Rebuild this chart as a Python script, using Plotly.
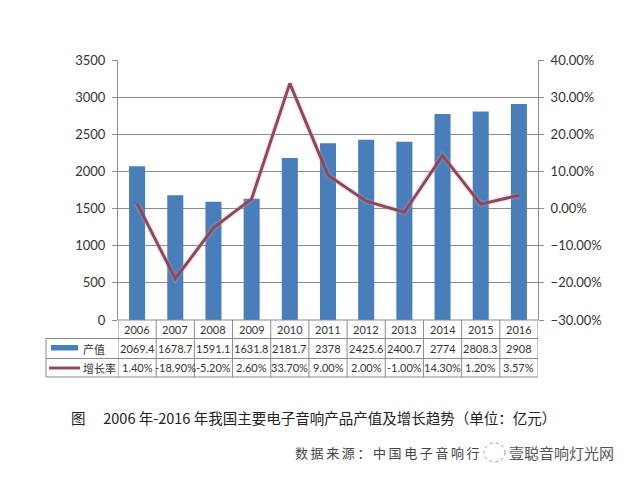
import plotly.graph_objects as go

years = ["2006", "2007", "2008", "2009", "2010", "2011", "2012", "2013", "2014", "2015", "2016"]
output_value = [2069.4, 1678.7, 1591.1, 1631.8, 2181.7, 2378, 2425.6, 2400.7, 2774, 2808.3, 2908]
output_labels = ["2069.4", "1678.7", "1591.1", "1631.8", "2181.7", "2378", "2425.6", "2400.7", "2774", "2808.3", "2908"]
growth_rate = [1.40, -18.90, -5.20, 2.60, 33.70, 9.00, 2.00, -1.00, 14.30, 1.20, 3.57]
growth_labels = ["1.40%", "-18.90%", "-5.20%", "2.60%", "33.70%", "9.00%", "2.00%", "-1.00%", "14.30%", "1.20%", "3.57%"]
series_names = ["产值", "增长率"]
caption = "图　 2006 年-2016 年我国主要电子音响产品产值及增长趋势（单位：亿元）"
source = "数据来源：中国电子音响行"
watermark = "壹聪音响灯光网"

OFF = 8  # default page body margin
W, H = 641 - OFF, 484 - OFF
def px(x):
    return (x - OFF) / W
def py(y):
    return 1 - (y - OFF) / H

BAR = "#4A7EBB"
LINE = "#8B4A5C"
GRID = "#8C8C8C"
TXT = "#333333"

fig = go.Figure()
xs = list(range(len(years)))
fig.add_trace(go.Bar(x=xs, y=output_value, name=series_names[0], marker_color=BAR,
                     marker_line_width=0, width=0.42, yaxis="y"))
fig.add_trace(go.Scatter(x=xs, y=growth_rate, mode="lines", yaxis="y2",
                         line=dict(color="rgba(235,160,170,0.25)", width=6), showlegend=False, hoverinfo="skip"))
fig.add_trace(go.Scatter(x=xs, y=growth_rate, name=series_names[1], mode="lines", yaxis="y2",
                         line=dict(color=LINE, width=3)))

x0, x1 = px(118), px(538)
ytop, ybot = py(60), py(320)
r1, r2, r3 = py(338.5), py(358.5), py(377)
tleft = px(46)

fig.update_layout(
    width=W, height=H, margin=dict(l=0, r=0, t=0, b=0, autoexpand=False),
    paper_bgcolor="white", plot_bgcolor="white", showlegend=False,
    font=dict(family="Lato, 'Noto Sans', sans-serif", color=TXT),
    xaxis=dict(domain=[x0, x1], range=[-0.5, 10.5], showticklabels=False, showgrid=False,
               zeroline=False, showline=False, fixedrange=True, automargin=False),
    yaxis=dict(domain=[ybot, ytop], range=[0, 3500], dtick=500, showgrid=True, gridcolor=GRID,
               gridwidth=1, zeroline=False, showline=True, linecolor=GRID, linewidth=1,
               ticks="outside", ticklen=5, tickcolor=GRID, tickfont=dict(size=13, color=TXT),
               ticklabelstandoff=4, automargin=False),
    yaxis2=dict(overlaying="y", side="right", range=[-30, 40], dtick=10, tickformat=".2f",
                ticksuffix="%", showgrid=False, zeroline=False, showline=True, linecolor=GRID,
                linewidth=1, ticks="outside", ticklen=5, tickcolor=GRID,
                tickfont=dict(size=13, color=TXT), anchor="x", ticklabelstandoff=4, automargin=False),
)

shapes = []
lc = dict(color="#8A8A8A", width=1)
shapes.append(dict(type="line", xref="paper", yref="paper", x0=x0, x1=x1, y0=ybot, y1=ybot, line=lc))
for yy in (r1, r2, r3):
    shapes.append(dict(type="line", xref="paper", yref="paper", x0=tleft, x1=x1, y0=yy, y1=yy, line=lc))
shapes.append(dict(type="line", xref="paper", yref="paper", x0=tleft, x1=tleft, y0=r1, y1=r3, line=lc))
for i in range(len(years) + 1):
    shapes.append(dict(type="line", xref="x", yref="paper", x0=i - 0.5, x1=i - 0.5,
                       y0=ybot, y1=r3, line=lc))
shapes.append(dict(type="rect", xref="paper", yref="paper", x0=px(51), x1=px(78),
                   y0=py(350.5), y1=py(345), fillcolor=BAR, line=dict(width=0)))
shapes.append(dict(type="line", xref="paper", yref="paper", x0=px(49), x1=px(80),
                   y0=py(368), y1=py(368), line=dict(color=LINE, width=3)))
shapes.append(dict(type="circle", xref="paper", yref="paper", x0=px(484), x1=px(505),
                   y0=py(462), y1=py(443), line=dict(color="#999999", width=1, dash="dot")))
fig.update_layout(shapes=shapes)

ann = []
for i, yv in enumerate(years):
    ann.append(dict(x=i, y=(ybot + r1) / 2, xref="x", yref="paper", text=yv, showarrow=False,
                    font=dict(size=11, color=TXT), xanchor="center", yanchor="middle"))
    ann.append(dict(x=i, y=(r1 + r2) / 2, xref="x", yref="paper", text=output_labels[i], showarrow=False,
                    font=dict(size=11, color=TXT), xanchor="center", yanchor="middle"))
    ann.append(dict(x=i, y=(r2 + r3) / 2, xref="x", yref="paper", text=growth_labels[i], showarrow=False,
                    font=dict(size=11, color=TXT), xanchor="center", yanchor="middle"))
ann.append(dict(x=px(81), y=(r1 + r2) / 2, xref="paper", yref="paper", text=series_names[0],
                showarrow=False, xanchor="left", yanchor="middle",
                font=dict(size=11, color=TXT, family="Noto Sans CJK SC")))
ann.append(dict(x=px(81), y=(r2 + r3) / 2, xref="paper", yref="paper", text=series_names[1],
                showarrow=False, xanchor="left", yanchor="middle",
                font=dict(size=11, color=TXT, family="Noto Sans CJK SC")))
ann.append(dict(x=px(69), y=py(417), xref="paper", yref="paper", text=caption, showarrow=False,
                xanchor="left", yanchor="middle",
                font=dict(size=14.5, color="#222222", family="Noto Sans CJK SC")))
ann.append(dict(x=px(293), y=py(452), xref="paper", yref="paper", text="\u2009".join(source),
                showarrow=False, xanchor="left", yanchor="middle",
                font=dict(size=13, color="#444444", family="Noto Sans CJK SC")))
ann.append(dict(x=px(507), y=py(452), xref="paper", yref="paper", text=watermark, showarrow=False,
                xanchor="left", yanchor="middle",
                font=dict(size=15, color="#555555", family="Noto Sans CJK SC")))
fig.update_layout(annotations=ann)

fig.write_html("out.html")
